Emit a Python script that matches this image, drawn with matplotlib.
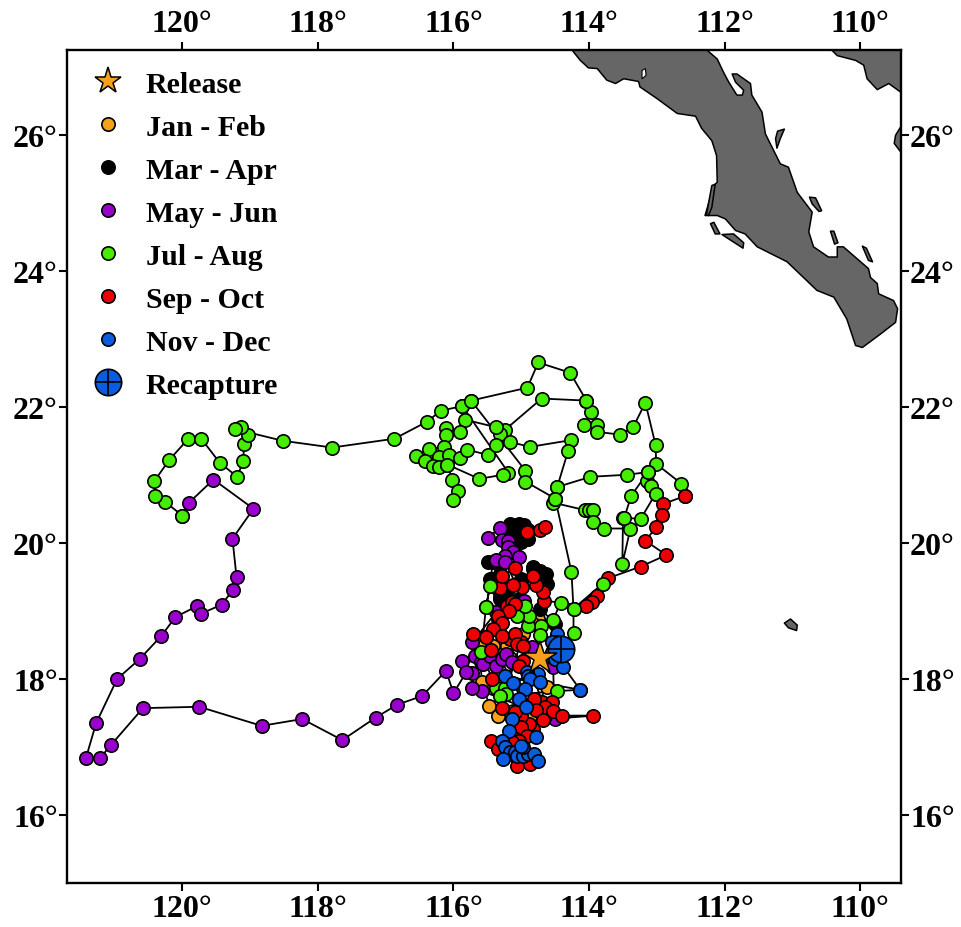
import matplotlib
matplotlib.use("Agg")
import matplotlib.pyplot as plt
from matplotlib.lines import Line2D
from matplotlib.patches import Polygon
from matplotlib.legend_handler import HandlerTuple

plt.rcParams['font.family'] = ['Liberation Serif', 'DejaVu Serif']
plt.rcParams['font.weight'] = 'bold'

release = (114.73, 18.31)
recapture = (114.42, 18.44)

orange = [(115.63,18.51),(115.58,17.96),(115.47,17.60),(115.34,17.46),(114.97,18.66),
          (114.75,18.88),(114.82,18.81),(115.41,18.49),(114.87,17.46),(114.62,17.88),(115.21,18.49)]

black = [(115.25,20.13),(115.16,20.21),(115.16,20.28),(115.07,20.26),(115.04,20.28),(114.96,20.26),
         (114.94,20.21),(114.90,20.19),(115.04,20.12),(115.19,20.16),(115.01,20.10),(114.90,20.06),
         (115.13,20.06),(115.01,20.01),(115.49,19.72),(115.41,19.72),(115.46,19.47),(115.43,19.47),
         (115.31,19.54),(115.35,19.32),(115.31,19.21),(115.24,19.22),(115.31,19.18),(115.19,19.32),
         (115.01,19.47),(115.01,19.44),(115.04,19.18),(114.82,19.65),(114.82,19.62),(114.72,19.59),
         (114.72,19.57),(114.63,19.54),(114.62,19.40),(114.65,19.40),(114.72,19.03),(114.50,18.81)]

purple = [(115.32,20.22),(115.49,20.07),(115.29,20.04),(115.19,20.03),(115.19,19.94),(115.12,19.87),
          (115.04,19.79),(115.24,19.81),(115.37,19.75),(115.24,19.72),(114.96,19.15),(115.37,18.98),
          (115.72,18.54),(115.68,18.34),(115.88,18.26),(115.60,18.25),(115.56,18.22),(115.46,18.34),
          (115.37,18.19),(115.28,18.29),(115.22,18.37),(115.13,18.25),(114.84,18.47),
          (114.53,18.18),(114.51,17.41),(115.58,17.82),(115.72,17.87),(115.72,18.09),(115.81,18.10),
          (116.00,17.79),(116.11,18.12),(116.46,17.75),(116.83,17.62),(117.15,17.43),(117.64,17.10),
          (118.23,17.41),(118.83,17.31),(119.75,17.59),(120.58,17.57),(121.05,17.03),(121.21,16.84),
          (121.42,16.84),(121.27,17.35),(120.96,18.00),(120.63,18.29),(120.31,18.63),(120.10,18.91),
          (119.78,19.07),(119.72,18.96),(119.42,19.09),(119.25,19.31),(119.20,19.50),(119.26,20.06),
          (118.95,20.50),(119.54,20.93),(119.90,20.59),(120.00,20.40)]

green_a = [(120.00,20.40),(120.25,20.60),(120.40,20.69),(120.41,20.91),(120.19,21.22),(119.91,21.53),
           (119.72,21.53),(119.45,21.18),(119.19,20.97),(119.10,21.20),(119.09,21.45),(119.03,21.59),
           (119.13,21.70),(119.22,21.67),(118.52,21.50),(117.79,21.40),(116.87,21.53),(116.39,21.78),
           (116.19,21.94),(115.87,22.01),(115.74,22.09),(114.91,22.28),(114.75,22.65),(114.28,22.50),
           (114.04,22.09),(113.97,21.92),(114.07,21.73),(113.89,21.73),(113.88,21.63),(113.54,21.59),
           (113.35,21.70),(113.17,22.06),(113.02,21.44),(113.01,21.16),(112.64,20.87),(112.58,20.69)]
green_b = [(114.04,22.09),(114.70,22.12),(115.24,21.66),(115.32,21.60),(115.38,21.70),(115.83,21.81),
           (115.91,21.63),(116.11,21.68),(116.11,21.59),(116.14,21.41),(116.36,21.38),(116.56,21.28),
           (116.42,21.20),(116.22,21.26),(116.30,21.13),(116.22,21.12),(116.09,21.15),(116.06,21.29),
           (115.91,21.25),(115.80,21.37),(115.49,21.29),(115.37,21.43),(115.16,21.48),(114.87,21.41),
           (114.26,21.51),(114.31,21.35),(114.47,20.82),(114.50,20.65),(114.53,20.59),(114.06,20.48),
           (114.00,20.48),(113.94,20.48),(113.94,20.31),(113.78,20.21),(113.39,20.21),(113.51,19.69),
           (113.50,20.37),(113.24,20.35),(113.02,20.72)]
green_c = [(115.87,22.01),(115.19,21.03),(115.27,21.00),(115.62,20.94),(116.09,21.15),(116.02,20.93),
           (115.94,20.76),(116.00,20.63)]
green_d = [(115.74,22.09),(114.94,21.06),(114.94,20.90),(114.50,20.65)]
green_e = [(114.47,20.82),(113.98,20.97),(113.44,21.00),(113.13,21.04),(113.14,20.91),(113.08,20.84),
           (113.02,20.72)]
green_f = [(113.13,21.04),(113.38,20.69),(113.48,20.37)]
green_g = [(114.50,20.65),(114.26,19.57),(114.23,19.03),(114.23,18.68)]
green_h = [(113.80,19.40),(114.23,19.03),(114.42,19.12),(114.53,18.87),(114.71,18.78),(114.72,18.65),
           (114.90,18.78),(114.88,18.93),(115.06,18.93),(114.94,19.07),(115.52,19.06),(115.46,19.37),
           (115.52,19.06),(115.59,18.40),(115.38,17.87),(115.24,17.87),(115.22,17.78),(115.31,17.75),
           (114.48,17.82),(114.13,17.84)]

red_a = [(112.58,20.69),(112.91,20.57),(112.92,20.41),(113.01,20.23),(113.17,20.03),(112.86,19.82),
         (113.24,19.65),(113.72,19.48),(113.89,19.22),(113.95,19.13),(114.04,19.07),(114.66,19.15),
         (114.68,19.28),(114.78,19.38),(114.82,19.51),(114.99,19.35),(115.12,19.38),(115.32,19.34),
         (115.28,19.51),(115.09,19.63),(114.91,20.16),(114.73,20.19),(114.65,20.23)]
red_c = [(115.21,19.07),(115.13,19.13),(115.35,18.88),(115.16,18.59),(115.01,18.54),
         (114.69,17.66),(114.65,17.46),(114.87,17.22),(115.09,17.19),(114.82,17.26)]
red_b = [(115.09,19.10),(115.18,19.00),(115.34,18.93),(115.28,18.82),(115.41,18.74),(115.71,18.66),
         (115.52,18.62),(115.29,18.63),(115.10,18.66),(115.06,18.51),(114.97,18.49),(115.44,18.43),
         (114.97,18.26),(115.04,18.19),(115.43,18.00),(115.28,17.57),(114.81,17.71),(114.54,17.66),
         (114.65,17.59),(114.78,17.54),(114.53,17.53),(114.40,17.46),(113.94,17.46),(114.68,17.40),
         (114.88,17.34),(115.01,17.46),(115.09,17.51),(115.00,17.29),(114.91,17.16),(115.04,17.09),
         (115.13,17.07),(115.44,17.09),(115.35,16.97),(115.07,16.72),(114.87,16.75)]

blue = [(114.48,18.66),(114.47,18.54),(114.54,18.54),(114.35,18.49),(114.54,18.40),(114.40,18.34),
        (114.50,18.29),(114.38,18.18),(114.13,17.84),(115.24,18.04),(115.12,17.94),(114.76,18.07),
        (114.91,18.10),(114.90,18.04),(114.87,18.00),(114.72,17.96),(114.94,17.85),(115.03,17.71),
        (114.93,17.59),(115.13,17.41),(115.18,17.24),(114.79,17.15),(115.28,17.09),(115.24,17.00),
        (115.16,16.93),(115.09,16.93),(115.27,16.82),(115.06,16.87),(114.97,16.87),(114.90,16.90),
        (114.81,16.90),(114.76,16.79),(114.97,17.00),(115.01,17.01)]

baja = [(114.25,27.4),(114.25,27.24),(114.13,27.09),(114.01,26.98),(113.88,26.97),(113.74,26.80),
        (113.61,26.75),(113.49,26.82),(113.27,26.78),(113.25,26.70),(113.00,26.53),(112.70,26.31),
        (112.43,26.27),(112.34,26.09),(112.19,25.91),(112.12,25.69),(112.11,25.30),(112.16,25.25),
        (112.29,24.81),(112.19,24.81),(112.11,24.81),(111.99,24.76),(111.84,24.59),(111.70,24.54),
        (111.52,24.35),(111.08,24.13),(110.64,23.71),(110.39,23.61),(110.20,23.29),(110.07,22.90),
        (109.97,22.87),(109.70,23.07),(109.48,23.24),(109.45,23.44),(109.51,23.56),(109.73,23.66),
        (109.75,23.81),(109.85,23.90),(109.88,24.03),(110.10,24.22),(110.25,24.35),(110.34,24.35),
        (110.34,24.20),(110.47,24.20),(110.69,24.35),(110.76,24.57),(110.71,24.86),(110.93,25.15),
        (111.06,25.52),(111.18,25.57),(111.40,26.01),(111.45,26.33),(111.60,26.58),(111.62,26.75),
        (111.82,26.89),(111.89,26.89),(111.84,26.77),(111.72,26.65),(111.74,26.58),(111.82,26.58),
        (111.94,26.77),(112.02,26.92),(112.11,27.11),(112.26,27.24),(112.32,27.4)]
mainland = [(110.45,27.4),(110.42,27.24),(110.34,27.16),(110.07,27.09),(109.95,27.02),(109.90,26.82),
            (109.75,26.66),(109.58,26.75),(109.40,26.62),(109.3,26.6),(109.3,27.4)]
islands = [
    [(109.40,26.12),(109.48,25.99),(109.50,25.87),(109.40,25.74),(109.3,25.74),(109.3,26.12)],
    [(111.23,25.80),(111.25,25.94),(111.22,26.05),(111.12,26.08),(111.18,25.94)],
    [(110.75,25.08),(110.66,25.07),(110.57,24.88),(110.61,24.87),(110.71,24.98)],
    [(110.44,24.58),(110.39,24.58),(110.33,24.41),(110.38,24.39)],
    [(109.97,24.36),(109.91,24.33),(109.82,24.13),(109.88,24.15)],
    [(112.04,24.53),(111.87,24.54),(111.72,24.41),(111.73,24.33)],
    [(112.21,24.69),(112.16,24.71),(112.07,24.54),(112.14,24.54)],
    [(112.27,24.82),(112.19,25.25),(112.14,25.27),(112.19,24.93),(112.24,24.81)],
    [(111.12,18.82),(111.03,18.88),(110.93,18.79),(110.94,18.71),(111.06,18.75)],
]
lagoon = [(113.22,26.94),(113.17,26.97),(113.16,26.87),(113.22,26.82)]

xticks = [120, 118, 116, 114, 112, 110]
yticks = [26, 24, 22, 20, 18, 16]

C_ORANGE, C_BLACK, C_PURPLE, C_GREEN, C_RED, C_BLUE = '#F7A01C', '#000000', '#9A00CC', '#45EE00', '#EE0000', '#0A5CE0'
LAND = '#666666'
series = [(orange, C_ORANGE), (black, C_BLACK), (purple, C_PURPLE),
          (green_a, C_GREEN), (green_b, C_GREEN), (green_c, C_GREEN), (green_d, C_GREEN),
          (green_e, C_GREEN), (green_f, C_GREEN), (green_g, C_GREEN),
          (red_a, C_RED), (red_c, C_RED), (green_h, C_GREEN), (red_b, C_RED), (blue, C_BLUE)]
labels = ['Release', 'Jan - Feb', 'Mar - Apr', 'May - Jun', 'Jul - Aug', 'Sep - Oct', 'Nov - Dec', 'Recapture']

fig = plt.figure(figsize=(9.61, 9.28), dpi=100)
ax = fig.add_axes([67/961, 44/928, 834/961, 833.5/928])
ax.set_xlim(121.7, 109.4)
ax.set_ylim(15.0, 27.25)

for poly in [baja, mainland] + islands:
    ax.add_patch(Polygon(poly, closed=True, fc=LAND, ec='black', lw=1.1, joinstyle='round', zorder=1))
ax.add_patch(Polygon(lagoon, closed=True, fc='white', ec='black', lw=0.8, zorder=1.5))

MS, MEW, LW = 9.6, 1.2, 1.3
for z, (pts, col) in enumerate(series):
    xs = [p[0] for p in pts]
    ys = [p[1] for p in pts]
    ax.plot(xs, ys, '-', color='black', lw=LW, zorder=2)
    ax.plot(xs, ys, 'o', ms=MS, mfc=col, mec='black', mew=MEW, ls='none', zorder=3 + z * 0.01)

ax.plot(*recapture, 'o', ms=19, mfc=C_BLUE, mec='black', mew=1.2, zorder=5)
ax.plot(*recapture, '+', ms=19, mec='black', mew=1.2, zorder=5.1)
ax.plot(*release, '*', ms=25, mfc=C_ORANGE, mec='black', mew=1.1, zorder=6)

ax.set_xticks(xticks)
ax.set_yticks(yticks)
ax.set_xticklabels([f'{t}°' for t in xticks])
ax.set_yticklabels([f'{t}°' for t in yticks])
ax.tick_params(axis='both', which='major', direction='out', length=6, width=1.5,
               top=True, right=True, labeltop=True, labelright=True, labelsize=23)
ax.tick_params(axis='x', pad=2)
ax.tick_params(axis='y', pad=0.5)
for s in ax.spines.values():
    s.set_linewidth(1.7)

def dot(c):
    return Line2D([], [], ls='none', marker='o', ms=MS, mfc=c, mec='black', mew=MEW)

handles = [Line2D([], [], ls='none', marker='*', ms=20, mfc=C_ORANGE, mec='black', mew=1.1),
           dot(C_ORANGE), dot(C_BLACK), dot(C_PURPLE), dot(C_GREEN), dot(C_RED), dot(C_BLUE),
           (Line2D([], [], ls='none', marker='o', ms=19, mfc=C_BLUE, mec='black', mew=1.2),
            Line2D([], [], ls='none', marker='+', ms=19, mec='black', mew=1.2))]
ax.legend(handles, labels, loc='upper left', bbox_to_anchor=(0.0, 0.995), frameon=False,
          fontsize=21.5, labelspacing=0.535, handlelength=1.6, handletextpad=0.47,
          borderaxespad=0.57, borderpad=0.0, numpoints=1,
          handler_map={tuple: HandlerTuple(ndivide=1, pad=0)})

fig.savefig('out.png', dpi=100)
